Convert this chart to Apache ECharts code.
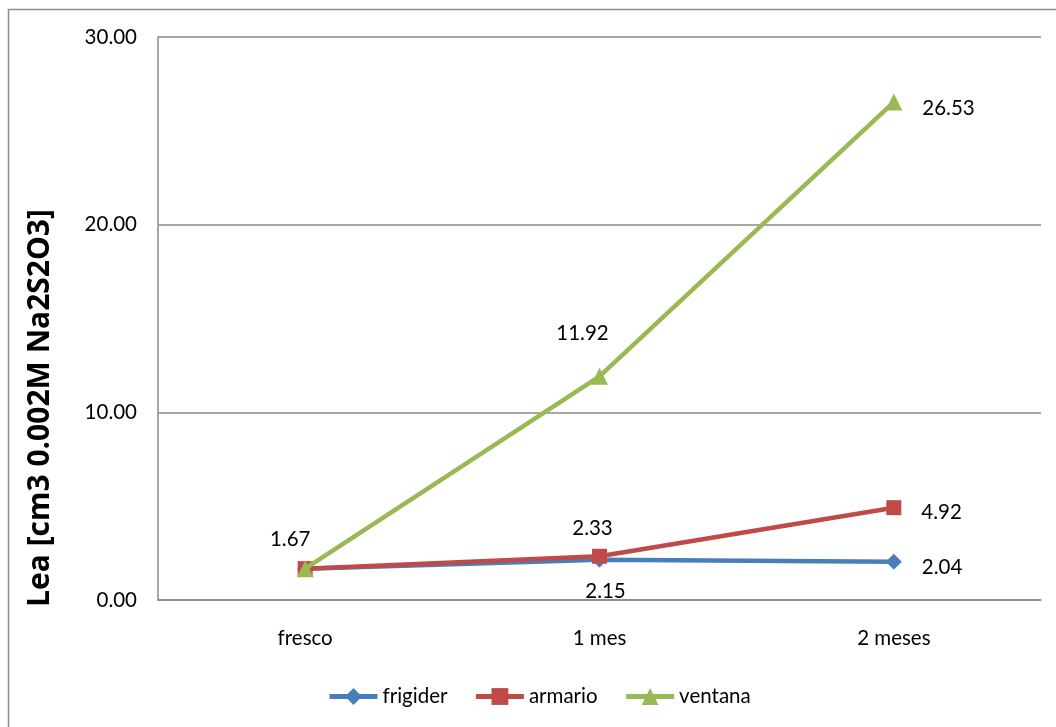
<!DOCTYPE html>
<html>
<head>
<meta charset="utf-8">
<script src="https://cdn.jsdelivr.net/npm/echarts@6/dist/echarts.min.js"></script>
<style>
  html, body { margin: 0; padding: 0; background: #fff; }
  #chart { width: 1056px; height: 727px; }
</style>
</head>
<body>
<div id="chart"></div>
<script>
// Storage periods on the x axis
const categories = ['fresco', '1 mes', '2 meses'];

// Measured values per storage place
const frigider = [1.67, 2.15, 2.04];
const armario = [1.67, 2.33, 4.92];
const ventana = [1.67, 11.92, 26.53];

// Value axis ticks
const yTicks = [0, 10, 20, 30];

const yTitle = 'Lea [cm3 0.002M Na2S2O3]';
const FONT = 'Lato, "Open Sans", sans-serif';
const FS = 20.5;

const chart = echarts.init(document.getElementById('chart'));

function labelFor(positions, offsets) {
  return function (idx) {
    if (!positions[idx]) return { show: false };
    return {
      show: true,
      position: positions[idx],
      offset: offsets[idx] || [0, 0],
      distance: 14,
      color: '#000',
      fontSize: FS,
      fontFamily: FONT,
      formatter: p => p.value.toFixed(2)
    };
  };
}

function buildData(values, positions, offsets) {
  const lab = labelFor(positions, offsets);
  return values.map((v, i) => ({ value: v, label: lab(i) }));
}

const option = {
  animation: false,
  backgroundColor: '#fff',
  grid: { left: 158, right: 15, top: 37, bottom: 127, containLabel: false },
  legend: {
    bottom: 15,
    left: 322,
    itemWidth: 48,
    itemHeight: 21,
    itemGap: 26,
    lineStyle: { width: 5 },
    textStyle: { fontSize: FS, fontFamily: FONT, color: '#000' },
    data: ['frigider', 'armario', 'ventana']
  },
  xAxis: {
    type: 'category',
    data: categories,
    boundaryGap: true,
    axisLine: { lineStyle: { color: '#888', width: 1.5 } },
    axisTick: { show: false },
    axisLabel: { color: '#000', fontSize: FS, fontFamily: FONT, margin: 28 }
  },
  yAxis: {
    type: 'value',
    min: yTicks[0],
    max: yTicks[yTicks.length - 1],
    interval: 10,
    axisLine: { show: true, lineStyle: { color: '#888', width: 1.5 } },
    axisTick: { show: false },
    splitLine: { lineStyle: { color: '#888', width: 1.5 } },
    axisLabel: {
      color: '#000', fontSize: FS, fontFamily: FONT, margin: 21,
      formatter: v => v.toFixed(2)
    }
  },
  graphic: [
    {
      type: 'rect',
      shape: { x: 8.5, y: 9.5, width: 1060, height: 730 },
      style: { fill: 'none', stroke: '#8c8c8c', lineWidth: 1.5 },
      silent: true
    },
    {
      type: 'text',
      x: 40,
      y: 408,
      rotation: Math.PI / 2,
      style: {
        text: yTitle,
        fontSize: 30,
        fontWeight: 'bold',
        fontFamily: '"Open Sans", "Noto Sans", sans-serif',
        fill: '#000',
        align: 'center',
        verticalAlign: 'middle'
      }
    }
  ],
  series: [
    {
      name: 'frigider',
      type: 'line',
      symbol: 'diamond',
      symbolSize: 16,
      z: 3,
      lineStyle: { width: 4.5, color: '#4A7EBB' },
      itemStyle: { color: '#4A7EBB' },
      data: buildData(frigider, [null, 'bottom', 'right'], [[], [6, -1], [6, 6]])
    },
    {
      name: 'armario',
      type: 'line',
      symbol: 'rect',
      symbolSize: 15,
      z: 4,
      lineStyle: { width: 4.5, color: '#BE4B48' },
      itemStyle: { color: '#BE4B48' },
      data: buildData(armario, ['top', 'top', 'right'], [[-15, 3], [-7, 4], [6, 5]])
    },
    {
      name: 'ventana',
      type: 'line',
      symbol: 'triangle',
      symbolSize: 17,
      z: 5,
      lineStyle: { width: 4.5, color: '#98B954' },
      itemStyle: { color: '#98B954' },
      data: buildData(ventana, [null, 'top', 'right'], [[], [-17, -10], [6, 6]])
    }
  ]
};

chart.setOption(option);
</script>
</body>
</html>
